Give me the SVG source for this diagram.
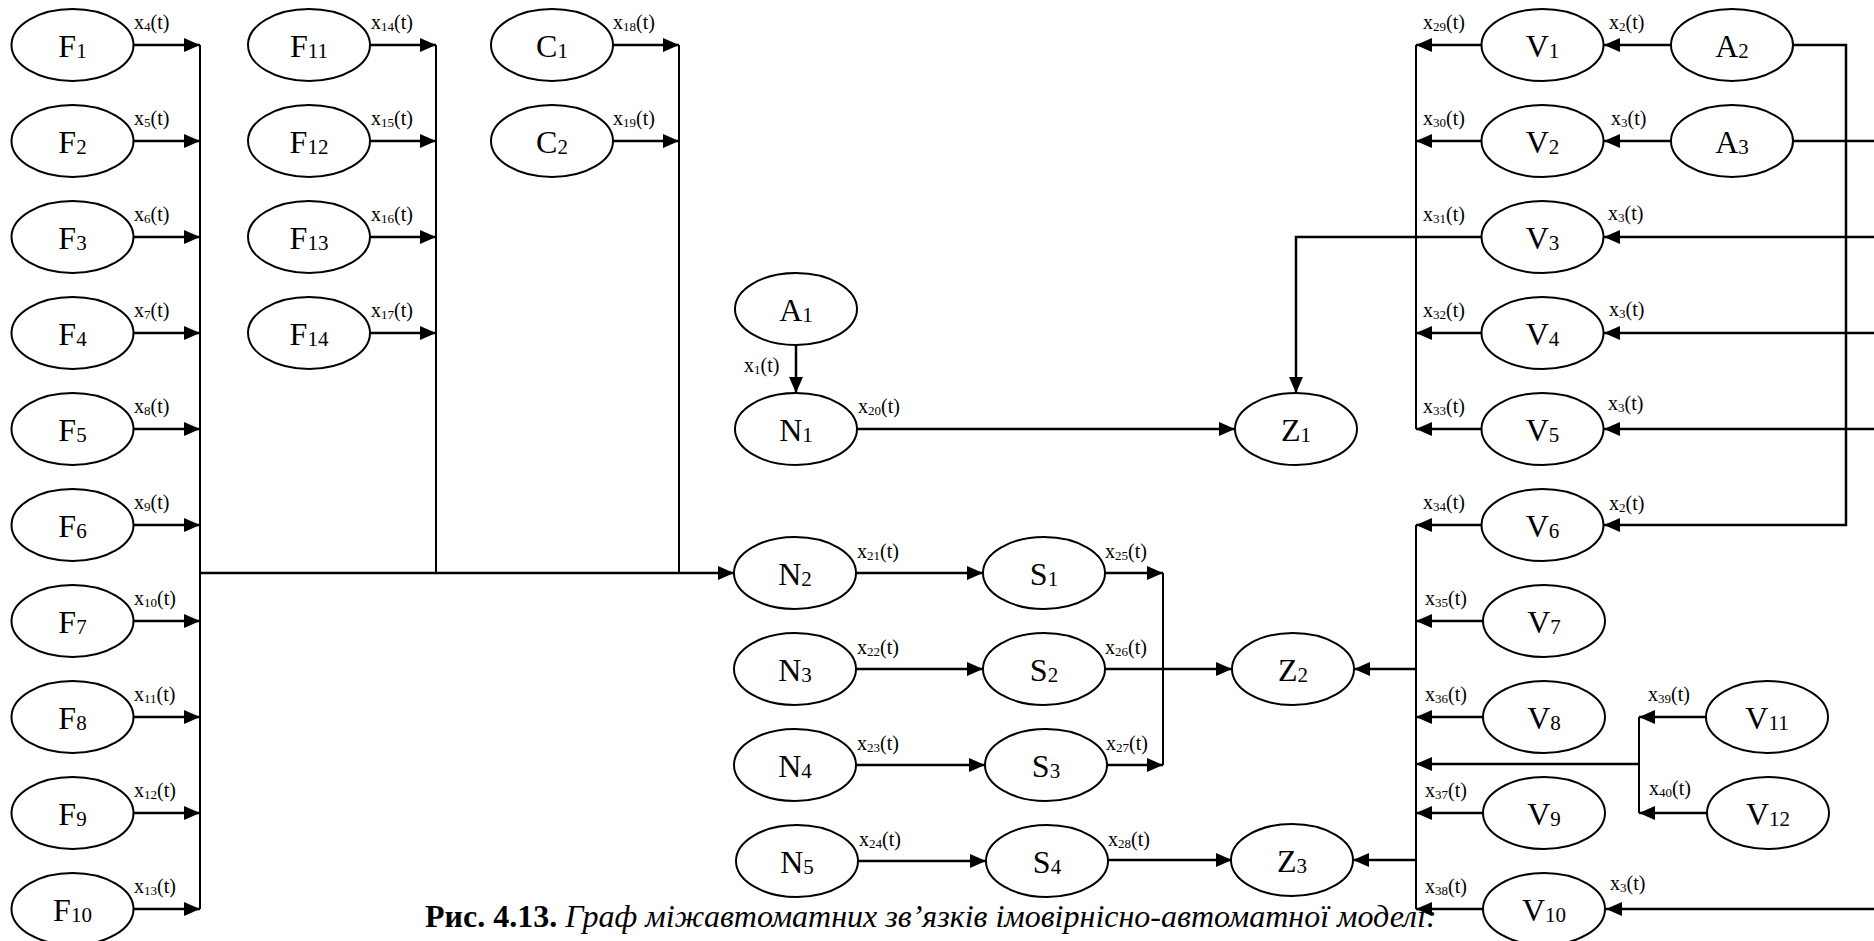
<svg xmlns="http://www.w3.org/2000/svg" width="1874" height="941" viewBox="0 0 1874 941">
<defs>
<marker id="ah" markerUnits="userSpaceOnUse" markerWidth="16" markerHeight="14" refX="16" refY="7" orient="auto"><path d="M0,0 L16,7 L0,14 z" fill="#000"/></marker>
<style>
ellipse{fill:#fff;stroke:#000;stroke-width:2}
text{font-family:'Liberation Serif','Times New Roman','DejaVu Serif',serif}
.n{font-size:32px;text-anchor:middle;fill:#000}
.s{font-size:21px}
.e{font-size:20px;fill:#000}
.es{font-size:13px}
.c path{fill:none;stroke:#000;stroke-width:2.5}
.c path.a{marker-end:url(#ah)}
.c path.b{stroke-width:2}
.cap{font-size:32px;fill:#000}
</style>
</defs>
<rect width="1874" height="941" fill="#fff"/>
<g class="c" id="connectors">
<path class="a" d="M133,45 H200"/><path class="a" d="M133,141 H200"/><path class="a" d="M133,237 H200"/><path class="a" d="M133,333 H200"/><path class="a" d="M133,429 H200"/><path class="a" d="M133,525 H200"/><path class="a" d="M133,621 H200"/><path class="a" d="M133,717 H200"/><path class="a" d="M133,813 H200"/><path class="a" d="M133,909 H200"/>
<path class="b" d="M200,45 V909"/>
<path class="a" d="M370,45 H436"/><path class="a" d="M370,141 H436"/><path class="a" d="M370,237 H436"/><path class="a" d="M370,333 H436"/>
<path class="b" d="M436,45 V573"/>
<path class="a" d="M613,45 H679"/><path class="a" d="M613,141 H679"/>
<path class="b" d="M679,45 V573"/>
<path class="a" d="M200,573 H734"/>
<path class="a" d="M796,345 V393"/>
<path class="a" d="M857,429 H1235"/>
<path class="a" d="M1482,237 H1296 V393"/>
<path class="a" d="M856,573 H983"/><path class="a" d="M856,669 H983"/><path class="a" d="M856,765 H985"/><path class="a" d="M858,861 H986"/>
<path class="a" d="M1105,573 H1163"/><path class="a" d="M1107,765 H1163"/>
<path class="b" d="M1163,573 V765"/>
<path class="a" d="M1105,669 H1232"/>
<path class="a" d="M1108,860 H1232"/>
<path class="a" d="M1671,45 H1604"/><path class="a" d="M1671,141 H1604"/>
<path class="a" d="M1793,45 H1846 V525 H1604"/>
<path d="M1793,141 H1874"/>
<path class="a" d="M1874,237 H1604"/><path class="a" d="M1874,333 H1604"/><path class="a" d="M1874,429 H1604"/><path class="a" d="M1874,909 H1606"/>
<path class="a" d="M1482,45 H1416"/><path class="a" d="M1482,141 H1416"/><path class="a" d="M1482,333 H1416"/><path class="a" d="M1482,429 H1416"/>
<path class="a" d="M1482,525 H1416"/><path class="a" d="M1483,621 H1416"/><path class="a" d="M1483,717 H1416"/><path class="a" d="M1483,813 H1416"/><path class="a" d="M1483,909 H1416"/>
<path class="b" d="M1416,45 V429"/><path class="b" d="M1416,525 V909"/>
<path class="a" d="M1416,669 H1354"/><path class="a" d="M1416,860 H1353"/>
<path class="a" d="M1706,717 H1639"/><path class="a" d="M1707,813 H1639"/>
<path class="b" d="M1639,717 V813"/>
<path class="a" d="M1639,764 H1416"/>
</g>
<g id="F1"><ellipse cx="72.5" cy="45" rx="61" ry="36"/><text class="n" x="72.5" y="57">F<tspan class="s" dy="1">1</tspan></text></g>
<g id="F2"><ellipse cx="72.5" cy="141" rx="61" ry="36"/><text class="n" x="72.5" y="153">F<tspan class="s" dy="1">2</tspan></text></g>
<g id="F3"><ellipse cx="72.5" cy="237" rx="61" ry="36"/><text class="n" x="72.5" y="249">F<tspan class="s" dy="1">3</tspan></text></g>
<g id="F4"><ellipse cx="72.5" cy="333" rx="61" ry="36"/><text class="n" x="72.5" y="345">F<tspan class="s" dy="1">4</tspan></text></g>
<g id="F5"><ellipse cx="72.5" cy="429" rx="61" ry="36"/><text class="n" x="72.5" y="441">F<tspan class="s" dy="1">5</tspan></text></g>
<g id="F6"><ellipse cx="72.5" cy="525" rx="61" ry="36"/><text class="n" x="72.5" y="537">F<tspan class="s" dy="1">6</tspan></text></g>
<g id="F7"><ellipse cx="72.5" cy="621" rx="61" ry="36"/><text class="n" x="72.5" y="633">F<tspan class="s" dy="1">7</tspan></text></g>
<g id="F8"><ellipse cx="72.5" cy="717" rx="61" ry="36"/><text class="n" x="72.5" y="729">F<tspan class="s" dy="1">8</tspan></text></g>
<g id="F9"><ellipse cx="72.5" cy="813" rx="61" ry="36"/><text class="n" x="72.5" y="825">F<tspan class="s" dy="1">9</tspan></text></g>
<g id="F10"><ellipse cx="72.5" cy="909" rx="61" ry="36"/><text class="n" x="72.5" y="921">F<tspan class="s" dy="1">10</tspan></text></g>
<g id="F11"><ellipse cx="309" cy="45" rx="61" ry="36"/><text class="n" x="309" y="57">F<tspan class="s" dy="1">11</tspan></text></g>
<g id="F12"><ellipse cx="309" cy="141" rx="61" ry="36"/><text class="n" x="309" y="153">F<tspan class="s" dy="1">12</tspan></text></g>
<g id="F13"><ellipse cx="309" cy="237" rx="61" ry="36"/><text class="n" x="309" y="249">F<tspan class="s" dy="1">13</tspan></text></g>
<g id="F14"><ellipse cx="309" cy="333" rx="61" ry="36"/><text class="n" x="309" y="345">F<tspan class="s" dy="1">14</tspan></text></g>
<g id="C1"><ellipse cx="552" cy="45" rx="61" ry="36"/><text class="n" x="552" y="57">C<tspan class="s" dy="1">1</tspan></text></g>
<g id="C2"><ellipse cx="552" cy="141" rx="61" ry="36"/><text class="n" x="552" y="153">C<tspan class="s" dy="1">2</tspan></text></g>
<g id="A1"><ellipse cx="796" cy="309" rx="61" ry="36"/><text class="n" x="796" y="321">A<tspan class="s" dy="1">1</tspan></text></g>
<g id="N1"><ellipse cx="796" cy="429" rx="61" ry="36"/><text class="n" x="796" y="441">N<tspan class="s" dy="1">1</tspan></text></g>
<g id="N2"><ellipse cx="795" cy="573" rx="61" ry="36"/><text class="n" x="795" y="585">N<tspan class="s" dy="1">2</tspan></text></g>
<g id="N3"><ellipse cx="795" cy="669" rx="61" ry="36"/><text class="n" x="795" y="681">N<tspan class="s" dy="1">3</tspan></text></g>
<g id="N4"><ellipse cx="795" cy="765" rx="61" ry="36"/><text class="n" x="795" y="777">N<tspan class="s" dy="1">4</tspan></text></g>
<g id="N5"><ellipse cx="797" cy="861" rx="61" ry="36"/><text class="n" x="797" y="873">N<tspan class="s" dy="1">5</tspan></text></g>
<g id="S1"><ellipse cx="1044" cy="573" rx="61" ry="36"/><text class="n" x="1044" y="585">S<tspan class="s" dy="1">1</tspan></text></g>
<g id="S2"><ellipse cx="1044" cy="669" rx="61" ry="36"/><text class="n" x="1044" y="681">S<tspan class="s" dy="1">2</tspan></text></g>
<g id="S3"><ellipse cx="1046" cy="765" rx="61" ry="36"/><text class="n" x="1046" y="777">S<tspan class="s" dy="1">3</tspan></text></g>
<g id="S4"><ellipse cx="1047" cy="861" rx="61" ry="36"/><text class="n" x="1047" y="873">S<tspan class="s" dy="1">4</tspan></text></g>
<g id="Z1"><ellipse cx="1296" cy="429" rx="61" ry="36"/><text class="n" x="1296" y="441">Z<tspan class="s" dy="1">1</tspan></text></g>
<g id="Z2"><ellipse cx="1293" cy="669" rx="61" ry="36"/><text class="n" x="1293" y="681">Z<tspan class="s" dy="1">2</tspan></text></g>
<g id="Z3"><ellipse cx="1292" cy="860" rx="61" ry="36"/><text class="n" x="1292" y="872">Z<tspan class="s" dy="1">3</tspan></text></g>
<g id="V1"><ellipse cx="1542.5" cy="45" rx="61" ry="36"/><text class="n" x="1542.5" y="57">V<tspan class="s" dy="1">1</tspan></text></g>
<g id="V2"><ellipse cx="1542.5" cy="141" rx="61" ry="36"/><text class="n" x="1542.5" y="153">V<tspan class="s" dy="1">2</tspan></text></g>
<g id="V3"><ellipse cx="1542.5" cy="237" rx="61" ry="36"/><text class="n" x="1542.5" y="249">V<tspan class="s" dy="1">3</tspan></text></g>
<g id="V4"><ellipse cx="1542.5" cy="333" rx="61" ry="36"/><text class="n" x="1542.5" y="345">V<tspan class="s" dy="1">4</tspan></text></g>
<g id="V5"><ellipse cx="1542.5" cy="429" rx="61" ry="36"/><text class="n" x="1542.5" y="441">V<tspan class="s" dy="1">5</tspan></text></g>
<g id="V6"><ellipse cx="1542.5" cy="525" rx="61" ry="36"/><text class="n" x="1542.5" y="537">V<tspan class="s" dy="1">6</tspan></text></g>
<g id="V7"><ellipse cx="1544" cy="621" rx="61" ry="36"/><text class="n" x="1544" y="633">V<tspan class="s" dy="1">7</tspan></text></g>
<g id="V8"><ellipse cx="1544" cy="717" rx="61" ry="36"/><text class="n" x="1544" y="729">V<tspan class="s" dy="1">8</tspan></text></g>
<g id="V9"><ellipse cx="1544" cy="813" rx="61" ry="36"/><text class="n" x="1544" y="825">V<tspan class="s" dy="1">9</tspan></text></g>
<g id="V10"><ellipse cx="1544" cy="909" rx="61" ry="36"/><text class="n" x="1544" y="921">V<tspan class="s" dy="1">10</tspan></text></g>
<g id="A2"><ellipse cx="1732" cy="45" rx="61" ry="36"/><text class="n" x="1732" y="57">A<tspan class="s" dy="1">2</tspan></text></g>
<g id="A3"><ellipse cx="1732" cy="141" rx="61" ry="36"/><text class="n" x="1732" y="153">A<tspan class="s" dy="1">3</tspan></text></g>
<g id="V11"><ellipse cx="1767" cy="717" rx="61" ry="36"/><text class="n" x="1767" y="729">V<tspan class="s" dy="1">11</tspan></text></g>
<g id="V12"><ellipse cx="1768" cy="813" rx="61" ry="36"/><text class="n" x="1768" y="825">V<tspan class="s" dy="1">12</tspan></text></g>
<g id="labels">
<text class="e" x="134" y="29">x<tspan class="es" dy="2">4</tspan><tspan dy="-2">(t)</tspan></text>
<text class="e" x="134" y="125">x<tspan class="es" dy="2">5</tspan><tspan dy="-2">(t)</tspan></text>
<text class="e" x="134" y="221">x<tspan class="es" dy="2">6</tspan><tspan dy="-2">(t)</tspan></text>
<text class="e" x="134" y="317">x<tspan class="es" dy="2">7</tspan><tspan dy="-2">(t)</tspan></text>
<text class="e" x="134" y="413">x<tspan class="es" dy="2">8</tspan><tspan dy="-2">(t)</tspan></text>
<text class="e" x="134" y="509">x<tspan class="es" dy="2">9</tspan><tspan dy="-2">(t)</tspan></text>
<text class="e" x="134" y="605">x<tspan class="es" dy="2">10</tspan><tspan dy="-2">(t)</tspan></text>
<text class="e" x="134" y="701">x<tspan class="es" dy="2">11</tspan><tspan dy="-2">(t)</tspan></text>
<text class="e" x="134" y="797">x<tspan class="es" dy="2">12</tspan><tspan dy="-2">(t)</tspan></text>
<text class="e" x="134" y="893">x<tspan class="es" dy="2">13</tspan><tspan dy="-2">(t)</tspan></text>
<text class="e" x="371" y="29">x<tspan class="es" dy="2">14</tspan><tspan dy="-2">(t)</tspan></text>
<text class="e" x="371" y="125">x<tspan class="es" dy="2">15</tspan><tspan dy="-2">(t)</tspan></text>
<text class="e" x="371" y="221">x<tspan class="es" dy="2">16</tspan><tspan dy="-2">(t)</tspan></text>
<text class="e" x="371" y="317">x<tspan class="es" dy="2">17</tspan><tspan dy="-2">(t)</tspan></text>
<text class="e" x="613" y="29">x<tspan class="es" dy="2">18</tspan><tspan dy="-2">(t)</tspan></text>
<text class="e" x="613" y="125">x<tspan class="es" dy="2">19</tspan><tspan dy="-2">(t)</tspan></text>
<text class="e" x="744" y="372">x<tspan class="es" dy="2">1</tspan><tspan dy="-2">(t)</tspan></text>
<text class="e" x="858" y="413">x<tspan class="es" dy="2">20</tspan><tspan dy="-2">(t)</tspan></text>
<text class="e" x="857" y="558">x<tspan class="es" dy="2">21</tspan><tspan dy="-2">(t)</tspan></text>
<text class="e" x="857" y="654">x<tspan class="es" dy="2">22</tspan><tspan dy="-2">(t)</tspan></text>
<text class="e" x="857" y="750">x<tspan class="es" dy="2">23</tspan><tspan dy="-2">(t)</tspan></text>
<text class="e" x="859" y="846">x<tspan class="es" dy="2">24</tspan><tspan dy="-2">(t)</tspan></text>
<text class="e" x="1105" y="558">x<tspan class="es" dy="2">25</tspan><tspan dy="-2">(t)</tspan></text>
<text class="e" x="1105" y="654">x<tspan class="es" dy="2">26</tspan><tspan dy="-2">(t)</tspan></text>
<text class="e" x="1106" y="750">x<tspan class="es" dy="2">27</tspan><tspan dy="-2">(t)</tspan></text>
<text class="e" x="1108" y="846">x<tspan class="es" dy="2">28</tspan><tspan dy="-2">(t)</tspan></text>
<text class="e" x="1423" y="29">x<tspan class="es" dy="2">29</tspan><tspan dy="-2">(t)</tspan></text>
<text class="e" x="1423" y="125">x<tspan class="es" dy="2">30</tspan><tspan dy="-2">(t)</tspan></text>
<text class="e" x="1423" y="221">x<tspan class="es" dy="2">31</tspan><tspan dy="-2">(t)</tspan></text>
<text class="e" x="1423" y="317">x<tspan class="es" dy="2">32</tspan><tspan dy="-2">(t)</tspan></text>
<text class="e" x="1423" y="413">x<tspan class="es" dy="2">33</tspan><tspan dy="-2">(t)</tspan></text>
<text class="e" x="1423" y="509">x<tspan class="es" dy="2">34</tspan><tspan dy="-2">(t)</tspan></text>
<text class="e" x="1425" y="605">x<tspan class="es" dy="2">35</tspan><tspan dy="-2">(t)</tspan></text>
<text class="e" x="1425" y="701">x<tspan class="es" dy="2">36</tspan><tspan dy="-2">(t)</tspan></text>
<text class="e" x="1425" y="797">x<tspan class="es" dy="2">37</tspan><tspan dy="-2">(t)</tspan></text>
<text class="e" x="1425" y="893">x<tspan class="es" dy="2">38</tspan><tspan dy="-2">(t)</tspan></text>
<text class="e" x="1609" y="29">x<tspan class="es" dy="2">2</tspan><tspan dy="-2">(t)</tspan></text>
<text class="e" x="1611" y="125">x<tspan class="es" dy="2">3</tspan><tspan dy="-2">(t)</tspan></text>
<text class="e" x="1608" y="220">x<tspan class="es" dy="2">3</tspan><tspan dy="-2">(t)</tspan></text>
<text class="e" x="1609" y="316">x<tspan class="es" dy="2">3</tspan><tspan dy="-2">(t)</tspan></text>
<text class="e" x="1608" y="410">x<tspan class="es" dy="2">3</tspan><tspan dy="-2">(t)</tspan></text>
<text class="e" x="1609" y="510">x<tspan class="es" dy="2">2</tspan><tspan dy="-2">(t)</tspan></text>
<text class="e" x="1610" y="890">x<tspan class="es" dy="2">3</tspan><tspan dy="-2">(t)</tspan></text>
<text class="e" x="1648" y="701">x<tspan class="es" dy="2">39</tspan><tspan dy="-2">(t)</tspan></text>
<text class="e" x="1649" y="795">x<tspan class="es" dy="2">40</tspan><tspan dy="-2">(t)</tspan></text>
</g>
<text class="cap" x="425" y="927"><tspan font-weight="bold">Рис. 4.13.</tspan><tspan font-style="italic"> Граф міжавтоматних зв’язків імовірнісно-автоматної моделі:</tspan></text>
</svg>
